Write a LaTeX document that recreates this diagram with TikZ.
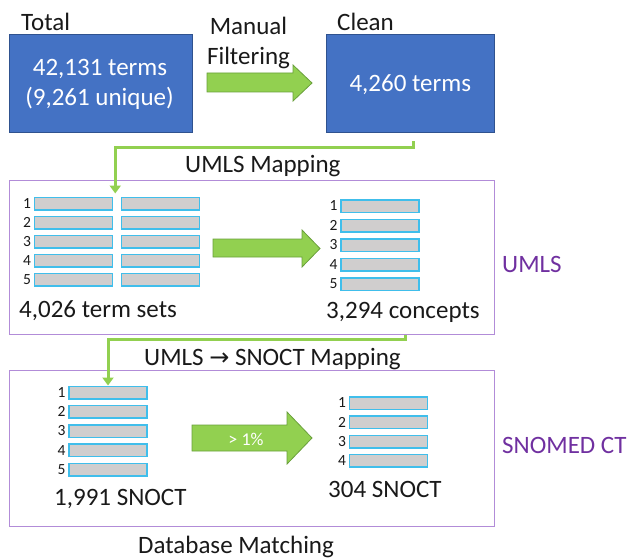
\documentclass[tikz,border=0pt]{standalone}
\usepackage{fontspec}
\setmainfont{Carlito}
\newfontfamily\arrowfont{DejaVu Sans}
\usetikzlibrary{arrows.meta,calc}

\definecolor{boxblue}{RGB}{68,114,196}
\definecolor{boxedge}{RGB}{47,82,143}
\definecolor{flowgreen}{RGB}{146,208,80}
\definecolor{flowedge}{RGB}{106,160,60}
\definecolor{framepurple}{RGB}{178,140,216}
\definecolor{labelpurple}{RGB}{112,48,160}
\definecolor{rowgray}{RGB}{208,206,206}
\definecolor{rowcyan}{RGB}{64,190,235}
\definecolor{inkc}{RGB}{25,25,25}

\tikzset{
  big/.style={font=\fontsize{25}{30}\selectfont, text=inkc, inner sep=0pt, anchor=base},
  bigleft/.style={big, anchor=base west},
  boxtext/.style={big, text=white},
  rownum/.style={font=\fontsize{15.5}{18}\selectfont, text=inkc, inner sep=0pt, anchor=east},
  termbox/.style={draw=boxedge, fill=boxblue, line width=0.8pt, inner sep=0pt},
  groupframe/.style={draw=framepurple, line width=1pt, inner sep=0pt},
  grouplabel/.style={big, anchor=base west, text=labelpurple},
  rowbar/.style={draw=rowcyan, fill=rowgray, line width=1.5pt, minimum width=78, minimum height=12.5, inner sep=0pt},
  elbow/.style={draw=flowgreen, line width=3pt, -{Triangle[width=11pt,length=8pt]}},
  blockarrow/.style={fill=flowgreen, draw=flowedge, line width=0.8pt, line join=miter},
}

\begin{document}
\begin{tikzpicture}[x=1pt, y=-1pt]
\useasboundingbox (0,0) rectangle (629,559);

% ---- top row: raw and cleaned term counts
\node[termbox, minimum width=183, minimum height=98] (total) at (100.5,83) {};
\node[bigleft] (totallbl) at (21,31) {Total};
\node[boxtext] (totalA) at (100,76) {42,131 terms};
\node[boxtext] (totalB) at (99.5,106) {(9,261 unique)};

\node[termbox, minimum width=168, minimum height=98] (clean) at (410,83) {};
\node[bigleft] (cleanlbl) at (337,31) {Clean};
\node[boxtext] (cleanA) at (410.3,92) {4,260 terms};

\draw[blockarrow] (207,73) -- (293,73) -- (293,65) -- (312,83) -- (293,101) -- (293,92) -- (207,92) -- cycle;
\node[big] (manual) at (248.5,35) {Manual};
\node[big] (filtering) at (248.5,65) {Filtering};

% ---- UMLS group
\node[groupframe, minimum width=485, minimum height=154] (umls) at (251.5,257) {};
\node[grouplabel] (umlslbl) at (502,272) {UMLS};

\foreach \i [evaluate=\i as \yy using 203.5+19*(\i-1)] in {1,...,5} {
  \node[rowbar] (ua\i) at (73.5,\yy) {};
  \node[rowbar] (ub\i) at (160.5,\yy) {};
  \node[rownum] at ($(ua\i.west)+(-2.5,0)$) {\i};
}
\node[bigleft] (termsets) at (19,317) {4,026 term sets};

\draw[blockarrow] (213,239) -- (302,239) -- (302,230) -- (320,248.5) -- (302,267) -- (302,257) -- (213,257) -- cycle;

\foreach \i [evaluate=\i as \yy using 206+19.5*(\i-1)] in {1,...,5} {
  \node[rowbar] (uc\i) at (380,\yy) {};
  \node[rownum] at ($(uc\i.west)+(-2.5,0)$) {\i};
}
\node[bigleft] (concepts) at (326,318) {3,294 concepts};

% ---- SNOMED CT group
\node[groupframe, minimum width=485, minimum height=156] (snomed) at (251.5,448) {};
\node[grouplabel] (snomedlbl) at (502,453) {SNOMED CT};

\foreach \i [evaluate=\i as \yy using 392.5+19.25*(\i-1)] in {1,...,5} {
  \node[rowbar] (sa\i) at (108,\yy) {};
  \node[rownum] at ($(sa\i.west)+(-2.5,0)$) {\i};
}
\node[bigleft] (snoctA) at (54,505) {1,991 SNOCT};

\draw[blockarrow] (192,425) -- (287,425) -- (287,412) -- (312,438) -- (287,464) -- (287,451) -- (192,451) -- cycle;
\node[font=\fontsize{18}{20}\selectfont, text=white, inner sep=0pt] (pct) at (246,439) {> 1\%};

\foreach \i [evaluate=\i as \yy using 403+19.3*(\i-1)] in {1,...,4} {
  \node[rowbar] (sb\i) at (388.5,\yy) {};
  \node[rownum] at ($(sb\i.west)+(-2.5,0)$) {\i};
}
\node[bigleft] (snoctB) at (328,497) {304 SNOCT};

% ---- mapping connectors
\coordinate (c1s) at ($(clean.south)+(3,9)$);
\coordinate (c1e) at ($(ua1.north east)+(2,-3)$);
\draw[elbow] (c1s) -- ++(0,6) -| (c1e);
\node[bigleft] (umlsmap) at (185,172) {UMLS Mapping};

\coordinate (c2s) at ($(umls.south)+(153.5,0)$);
\draw[elbow] (c2s) -- ++(0,4.5) -| (sa1.north);
\node[bigleft] (snoctmap) at (144,365) {UMLS {\arrowfont\fontsize{24}{28}\selectfont →} SNOCT Mapping};

\node[bigleft] (dbmatch) at (138,553) {Database Matching};
\end{tikzpicture}
\end{document}
